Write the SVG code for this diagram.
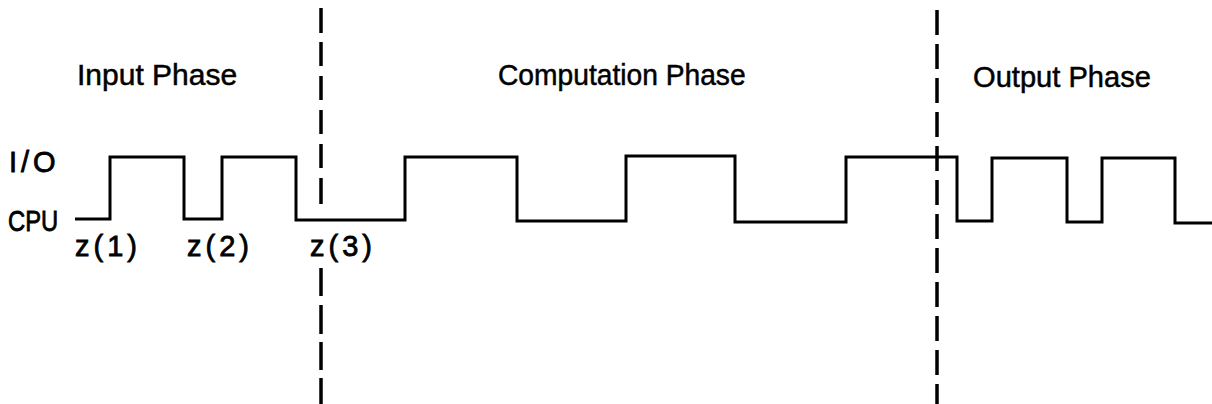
<svg xmlns="http://www.w3.org/2000/svg" width="1212" height="404" viewBox="0 0 1212 404">
<style>
.lbl{font-family:"Liberation Sans",Arial,sans-serif;fill:#000;stroke:#000;stroke-width:0.5;}
.phase{font-size:30px;}
.axis{font-size:29px;stroke-width:0.8;}
.z{font-size:29px;letter-spacing:4px;stroke-width:0.8;}
.wave{fill:none;stroke:#000;stroke-width:3;stroke-linejoin:miter;}
.div{fill:none;stroke:#000;stroke-width:3.5;}
.div2{fill:none;stroke:#000;stroke-width:3.5;stroke-dasharray:25 9;}
</style>
<rect width="1212" height="404" fill="#fff"/>
<g id="phase-labels">
<text id="input-phase" class="lbl phase" x="77" y="85">Input Phase</text>
<text id="computation-phase" class="lbl phase" transform="translate(498 85) scale(0.94 1)">Computation Phase</text>
<text id="output-phase" class="lbl phase" transform="translate(973 87) scale(0.97 1)">Output Phase</text>
</g>
<g id="axis-labels">
<text id="io" class="lbl axis" x="9" y="172" letter-spacing="4">I/O</text>
<text id="cpu" class="lbl axis" transform="translate(8 231) scale(0.82 1)">CPU</text>
</g>
<g id="z-labels">
<text id="z1" class="lbl z" x="75" y="256">z(1)</text>
<text id="z2" class="lbl z" x="187" y="256">z(2)</text>
<text id="z3" class="lbl z" x="310" y="256">z(3)</text>
</g>
<g id="connectors">
<path id="waveform" class="wave" d="M75 219 H110 V157 H184 V219 H222 V157 H296 V220 H405 V157 H517 V221 H626 V156 H735 V222 H846 V157 H957 V221 H992 V158 H1067 V222 H1102 V158 H1175 V223 H1212"/>
<path id="divider-1" class="div" d="M321 8V33M321 42V66M321 76V100M321 110V134M321 144V168M321 178V204M321 268V296M321 305V334M321 342V370M321 378V404"/>
<line id="divider-2" class="div2" x1="937" y1="10" x2="937" y2="404"/>
</g>
</svg>
